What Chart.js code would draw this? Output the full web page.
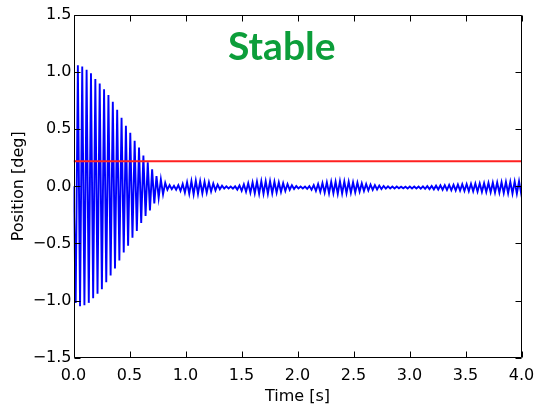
<!DOCTYPE html>
<html>
<head>
<meta charset="utf-8">
<script src="https://cdn.jsdelivr.net/npm/chart.js@4/dist/chart.umd.min.js"></script>
<style>
  html, body { margin: 0; padding: 0; background: #fff; }
  canvas { display: block; }
</style>
</head>
<body>
<canvas id="c" width="535" height="405"></canvas>
<script>
// Swing response: successive lower / upper peaks of each oscillation cycle [deg]
const lowerPeaks = [
  -1.02, -1.05, -1.04, -1.02, -0.98, -0.94, -0.90, -0.84, -0.78, -0.72,
  -0.65, -0.58, -0.52, -0.45, -0.39, -0.32, -0.26, -0.21, -0.15, -0.10,
  -0.07, -0.03, -0.025, -0.03, -0.04, -0.055, -0.065, -0.07, -0.065, -0.06,
  -0.055, -0.045, -0.035, -0.025, -0.02, -0.018, -0.02, -0.028, -0.038, -0.047,
  -0.055, -0.06, -0.065, -0.065, -0.065, -0.06, -0.055, -0.048, -0.04, -0.03,
  -0.023, -0.018, -0.018, -0.022, -0.03, -0.04, -0.048, -0.055, -0.06, -0.06,
  -0.065, -0.062, -0.06, -0.056, -0.052, -0.046, -0.04, -0.036, -0.031, -0.027,
  -0.023, -0.02, -0.018, -0.018, -0.017, -0.017, -0.018, -0.018, -0.019, -0.02,
  -0.022, -0.024, -0.026, -0.028, -0.03, -0.032, -0.034, -0.036, -0.038, -0.04,
  -0.042, -0.044, -0.046, -0.048, -0.05, -0.052, -0.054, -0.056, -0.058, -0.06,
  -0.062, -0.064, -0.065
];
const upperPeaks = [
  1.06, 1.05, 1.02, 0.99, 0.94, 0.90, 0.85, 0.80, 0.74, 0.67,
  0.60, 0.53, 0.47, 0.40, 0.34, 0.27, 0.21, 0.15, 0.09, 0.06,
  0.03, 0.01, 0.005, 0.01, 0.02, 0.035, 0.045, 0.05, 0.045, 0.04,
  0.035, 0.025, 0.015, 0.005, 0.0, -0.002, 0.0, 0.008, 0.018, 0.027,
  0.035, 0.04, 0.045, 0.045, 0.045, 0.04, 0.035, 0.028, 0.02, 0.01,
  0.003, -0.002, -0.002, 0.002, 0.01, 0.02, 0.028, 0.035, 0.04, 0.04,
  0.045, 0.042, 0.04, 0.036, 0.032, 0.026, 0.02, 0.016, 0.011, 0.007,
  0.003, 0.0, -0.002, -0.002, -0.003, -0.003, -0.002, -0.002, -0.001, 0.0,
  0.002, 0.004, 0.006, 0.008, 0.01, 0.012, 0.014, 0.016, 0.018, 0.02,
  0.022, 0.024, 0.026, 0.028, 0.03, 0.032, 0.034, 0.036, 0.038, 0.04,
  0.042, 0.044, 0.045
];
const halfPeriod = 0.0195;       // s between a trough and the next crest
const startValue = 0.0;          // position at t = 0
const referenceLevel = 0.22;     // horizontal reference [deg]
const xTicks = [0.0, 0.5, 1.0, 1.5, 2.0, 2.5, 3.0, 3.5, 4.0];
const yTicks = [-1.5, -1.0, -0.5, 0.0, 0.5, 1.0, 1.5];
const statusLabel = { text: 'Stable', x: 1.86, y: 1.105 };

// Time series: start, then trough / crest of every cycle
const signal = [{ x: 0, y: startValue }];
lowerPeaks.forEach((lo, k) => {
  signal.push({ x: (2 * k + 1) * halfPeriod, y: lo });
  signal.push({ x: (2 * k + 2) * halfPeriod, y: upperPeaks[k] });
});
const reference = [
  { x: xTicks[0], y: referenceLevel },
  { x: xTicks[xTicks.length - 1], y: referenceLevel }
];

const FONT = 'DejaVu Sans';
const fmt = v => v.toFixed(1).replace('-', '\u2212');

// Box around the axes with inward ticks on all four sides, plus the status text
const framePlugin = {
  id: 'frame',
  afterDatasetsDraw(chart) {
    const { ctx, chartArea: a, scales } = chart;
    const L = Math.round(a.left) + 0.5, R = Math.round(a.right) - 0.5;
    const T = Math.round(a.top) + 0.5, B = Math.round(a.bottom) - 0.5;
    const len = 6;
    ctx.save();
    ctx.strokeStyle = '#000';
    ctx.lineWidth = 1;
    ctx.beginPath();
    ctx.rect(L, T, R - L, B - T);
    xTicks.forEach(v => {
      const px = Math.round(scales.x.getPixelForValue(v)) + 0.5;
      ctx.moveTo(px, B); ctx.lineTo(px, B - len);
      ctx.moveTo(px, T); ctx.lineTo(px, T + len);
    });
    yTicks.forEach(v => {
      const py = Math.round(scales.y.getPixelForValue(v)) + 0.5;
      ctx.moveTo(L, py); ctx.lineTo(L + len, py);
      ctx.moveTo(R, py); ctx.lineTo(R - len, py);
    });
    ctx.stroke();

    ctx.fillStyle = '#0c9e3a';
    ctx.font = 'bold 39px Lato';
    ctx.textAlign = 'center';
    ctx.textBaseline = 'alphabetic';
    ctx.fillText(statusLabel.text,
      scales.x.getPixelForValue(statusLabel.x),
      scales.y.getPixelForValue(statusLabel.y));
    ctx.restore();
  }
};

new Chart(document.getElementById('c'), {
  type: 'line',
  data: {
    datasets: [
      {
        data: reference,
        borderColor: '#ff2020',
        borderWidth: 2,
        pointRadius: 0,
        tension: 0
      },
      {
        data: signal,
        borderColor: '#0000ff',
        borderWidth: 1.9,
        pointRadius: 0,
        tension: 0
      }
    ]
  },
  options: {
    responsive: false,
    animation: false,
    devicePixelRatio: 1,
    layout: { padding: { left: 9, right: 13.5, top: 15, bottom: 0 } },
    plugins: { legend: { display: false }, tooltip: { enabled: false } },
    scales: {
      x: {
        type: 'linear',
        min: 0, max: 4,
        afterBuildTicks: s => { s.ticks = xTicks.map(v => ({ value: v })); },
        afterFit: s => { s.height = 47.3; s.paddingLeft = 0; s.paddingRight = 0; },
        grid: { display: false, drawTicks: false },
        border: { display: false },
        ticks: {
          autoSkip: false, maxRotation: 0, padding: 9, color: '#000',
          font: { family: FONT, size: 16 },
          callback: v => fmt(v)
        },
        title: {
          display: true, text: 'Time [s]', color: '#000',
          font: { family: FONT, size: 16, lineHeight: 1.05 }, padding: 0
        }
      },
      y: {
        type: 'linear',
        min: -1.5, max: 1.5,
        afterBuildTicks: s => { s.ticks = yTicks.map(v => ({ value: v })); },
        afterFit: s => { s.width = 64.5; s.paddingTop = 0; s.paddingBottom = 0; },
        grid: { display: false, drawTicks: false },
        border: { display: false },
        ticks: {
          autoSkip: false, padding: 2, color: '#000',
          font: { family: FONT, size: 16 },
          callback: v => fmt(v)
        },
        title: {
          display: true, text: 'Position [deg]', color: '#000',
          font: { family: FONT, size: 16 }, padding: 0
        }
      }
    }
  },
  plugins: [framePlugin]
});
</script>
</body>
</html>
